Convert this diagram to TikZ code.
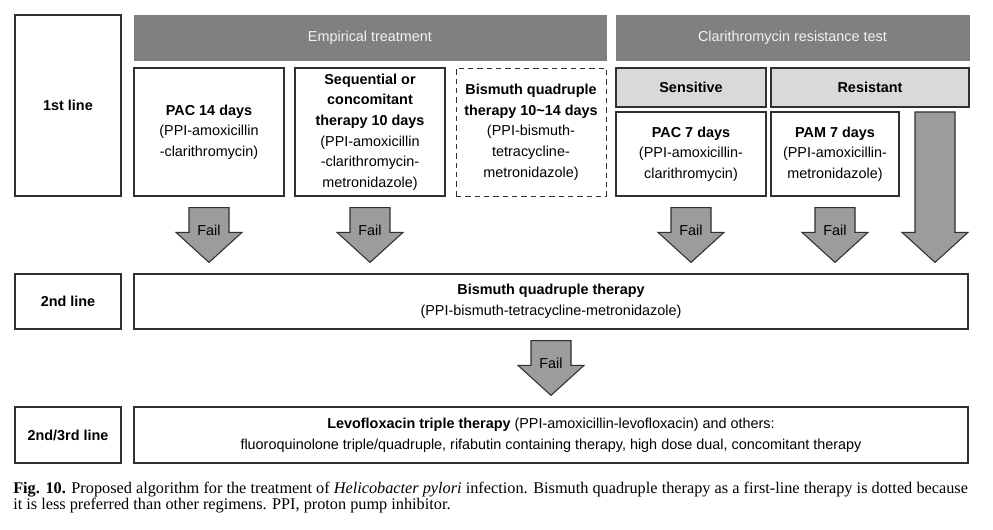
\documentclass[tikz,border=0pt]{standalone}
\usepackage{fontspec}
\setmainfont{Liberation Sans}
\newfontfamily\capfont{Liberation Serif}
\usetikzlibrary{calc}
\definecolor{hdr}{HTML}{808080}
\definecolor{lgt}{HTML}{D9D9D9}
\definecolor{arr}{HTML}{9C9C9C}
\definecolor{edge}{HTML}{303030}
\definecolor{hdrtext}{HTML}{F2F2F2}
\newcommand\failarr[2]{% #1 top coordinate, #2 tip coordinate
  \draw[blockarrow] let \p1=(#1), \p2=(#2) in
    (\x1-15pt,\y1) -- (\x1+15pt,\y1) -- (\x1+15pt,\y2+22.5pt) -- (\x1+24.75pt,\y2+22.5pt)
    -- (\x1,\y2) -- (\x1-24.75pt,\y2+22.5pt) -- (\x1-15pt,\y2+22.5pt) -- cycle;}
\begin{document}
\begin{tikzpicture}[x=0.75pt,y=-0.75pt,
  txt/.style={font=\fontsize{10.8}{15.5}\selectfont},
  box/.style={txt,draw=edge,line width=0.9pt,fill=white,inner sep=0pt,align=center},
  dashbox/.style={box,line width=0.7pt,dash pattern=on 4pt off 3pt},
  hdrbox/.style={txt,fill=hdr,draw=hdr,line width=0.6pt,text=hdrtext,inner sep=0pt,align=center},
  lgtbox/.style={box,fill=lgt},
  blockarrow/.style={fill=arr,draw=edge,line width=0.8pt,line join=miter},
  faillabel/.style={txt,inner sep=0pt}]
\useasboundingbox (0,0) rectangle (993,530);

% row 1
\node[box,minimum width=79.5pt,minimum height=135.75pt] (l1) at (68,105.5) {\textbf{1st line}};
\node[hdrbox,minimum width=354pt,minimum height=33.75pt] (emp) at (370,37.5) {Empirical treatment};
\node[hdrbox,minimum width=264.75pt,minimum height=33.75pt] (cla) at (792.5,37.5) {Clarithromycin resistance test};
\node[box,minimum width=112.5pt,minimum height=96pt] (pac14) at (209,132) {\textbf{PAC 14 days}\\(PPI-amoxicillin\\-clarithromycin)};
\node[box,minimum width=112.5pt,minimum height=96pt] (seq) at (370,132) {\textbf{Sequential or}\\\textbf{concomitant}\\\textbf{therapy 10 days}\\(PPI-amoxicillin\\-clarithromycin-\\metronidazole)};
\node[dashbox,minimum width=112.5pt,minimum height=96pt] (bis1) at (531,132) {\textbf{Bismuth quadruple}\\\textbf{therapy 10\textasciitilde14 days}\\(PPI-bismuth-\\tetracycline-\\metronidazole)};
\node[lgtbox,minimum width=112.5pt,minimum height=29.25pt] (sens) at (691,87.5) {\textbf{Sensitive}};
\node[lgtbox,minimum width=148.5pt,minimum height=29.25pt] (res) at (870,87.5) {\textbf{Resistant}};
\node[box,minimum width=112.5pt,minimum height=63pt] (pac7) at (691,154) {\textbf{PAC 7 days}\\(PPI-amoxicillin-\\clarithromycin)};
\node[box,minimum width=96pt,minimum height=63pt] (pam7) at (835,154) {\textbf{PAM 7 days}\\(PPI-amoxicillin-\\metronidazole)};

% row 2
\node[box,minimum width=79.5pt,minimum height=41.25pt] (l2) at (68,301.5) {\textbf{2nd line}};
\node[box,minimum width=625.5pt,minimum height=41.25pt] (bq) at (551,301.5) {\textbf{Bismuth quadruple therapy}\\(PPI-bismuth-tetracycline-metronidazole)};

% row 3
\node[box,minimum width=79.5pt,minimum height=42pt] (l3) at (68,435) {\textbf{2nd/3rd line}};
\node[box,minimum width=625.5pt,minimum height=42pt] (levo) at (551,435) {\textbf{Levofloxacin triple therapy} (PPI-amoxicillin-levofloxacin) and others:\\fluoroquinolone triple/quadruple, rifabutin containing therapy, high dose dual, concomitant therapy};

% arrow anchor coordinates
\coordinate (a1t) at ($(pac14.south)+(0,11)$);
\coordinate (a1b) at ($(pac14.south |- bq.north)+(0,-11)$);
\coordinate (a2t) at ($(seq.south)+(0,11)$);
\coordinate (a2b) at ($(seq.south |- bq.north)+(0,-11)$);
\coordinate (a3t) at ($(pac7.south)+(0,11)$);
\coordinate (a3b) at ($(pac7.south |- bq.north)+(0,-11)$);
\coordinate (a4t) at ($(pam7.south)+(0,11)$);
\coordinate (a4b) at ($(pam7.south |- bq.north)+(0,-11)$);
\coordinate (a5t) at (935,112);
\coordinate (a5b) at ($(a5t |- bq.north)+(0,-11)$);
\coordinate (a6t) at ($(bq.south)+(0,11)$);
\coordinate (a6b) at ($(levo.north)+(0,-11)$);

\failarr{a1t}{a1b}
\failarr{a2t}{a2b}
\failarr{a3t}{a3b}
\failarr{a4t}{a4b}
\failarr{a5t}{a5b}
\failarr{a6t}{a6b}

\node[faillabel] (f1) at ($(a1b)+(0,-32)$) {Fail};
\node[faillabel] (f2) at ($(a2b)+(0,-32)$) {Fail};
\node[faillabel] (f3) at ($(a3b)+(0,-32)$) {Fail};
\node[faillabel] (f4) at ($(a4b)+(0,-32)$) {Fail};
\node[faillabel] (f6) at ($(a6b)+(0,-32)$) {Fail};

% caption
\node[anchor=north west,inner sep=0pt,text width=716pt,align=justify,
      font=\capfont\fontsize{12.2}{12}\selectfont] (cap) at (13,482)
  {\hyphenpenalty=10000\exhyphenpenalty=10000\textbf{Fig. 10.} Proposed algorithm for the treatment of \textit{Helicobacter pylori} infection. Bismuth quadruple therapy as a first-line therapy is dotted because\linebreak it is less preferred than other regimens. PPI, proton pump inhibitor.};
\end{tikzpicture}
\end{document}
